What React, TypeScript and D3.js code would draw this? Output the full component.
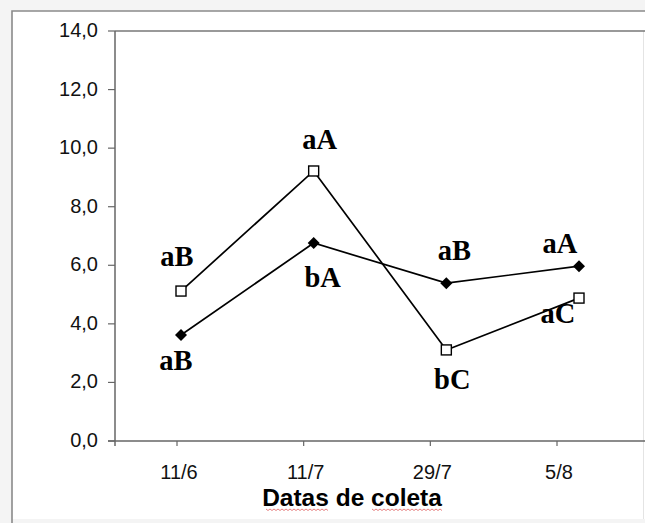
import React, {useEffect, useRef} from 'react';
import * as d3 from 'd3';

const dates = ['11/6', '11/7', '29/7', '5/8'];
const yTicks = [0, 2, 4, 6, 8, 10, 12, 14];
// open squares
const squareValues = [5.12, 9.22, 3.11, 4.88];
// filled diamonds
const diamondValues = [3.62, 6.76, 5.39, 5.97];
const squareLetters = ['aB', 'aA', 'bC', 'aC'];
const diamondLetters = ['aB', 'bA', 'aB', 'aA'];

const W = 645;
const H = 523;

const App = () => {
    const svgRef = useRef(null);

    useEffect(() => {
        const svg = d3.select(svgRef.current);
        svg.selectAll('*').remove();

        const left = 115, top = 31, bottom = 441;
        const y = d3.scaleLinear().domain([0, 14]).range([bottom, top]);
        // axis labels and the plotted points don't line up exactly in the original
        const xAxis = d3.scalePoint().domain(dates).range([177, 557]);
        const xData = d3.scalePoint().domain(dates).range([181, 579]);

        // page background + frame
        svg.append('rect').attr('width', W).attr('height', H).attr('fill', '#f4f4f4');
        svg.append('rect').attr('x', 12).attr('y', 11).attr('width', W - 12).attr('height', 508)
            .attr('fill', '#fff');
        svg.append('path').attr('d', `M12,${H}V11H${W}`)
            .attr('fill', 'none').attr('stroke', '#8a8a8a').attr('stroke-width', 1.6);
        svg.append('line').attr('x1', 643.5).attr('x2', 643.5).attr('y1', 31).attr('y2', 519)
            .attr('stroke', '#e4e4e4').attr('stroke-width', 1);

        const axisColor = '#666';

        // plot frame: top, left, bottom
        svg.append('line').attr('x1', left).attr('x2', W).attr('y1', top).attr('y2', top)
            .attr('stroke', '#777').attr('stroke-width', 1.6);
        svg.append('line').attr('x1', left).attr('x2', left).attr('y1', top).attr('y2', bottom + 5)
            .attr('stroke', axisColor).attr('stroke-width', 1.5);
        svg.append('line').attr('x1', left - 7).attr('x2', W).attr('y1', bottom).attr('y2', bottom)
            .attr('stroke', axisColor).attr('stroke-width', 1.5);

        // y ticks
        const yg = svg.append('g');
        yg.selectAll('line').data(yTicks).join('line')
            .attr('x1', left - 7).attr('x2', left)
            .attr('y1', d => y(d)).attr('y2', d => y(d))
            .attr('stroke', axisColor).attr('stroke-width', 1.2);
        yg.selectAll('text').data(yTicks).join('text')
            .attr('x', 98).attr('y', d => y(d) + 6)
            .attr('text-anchor', 'end')
            .attr('font-family', 'Liberation Sans, Arial, sans-serif')
            .attr('font-size', 20)
            .attr('fill', '#111')
            .text(d => d3.format('.1f')(d).replace('.', ','));

        // x ticks
        const xg = svg.append('g');
        xg.selectAll('line').data(dates).join('line')
            .attr('x1', d => xAxis(d)).attr('x2', d => xAxis(d))
            .attr('y1', bottom).attr('y2', bottom + 5)
            .attr('stroke', axisColor).attr('stroke-width', 1.2);
        xg.selectAll('text').data(dates).join('text')
            .attr('x', d => xAxis(d) + 2).attr('y', 479)
            .attr('text-anchor', 'middle')
            .attr('font-family', 'Liberation Sans, Arial, sans-serif')
            .attr('font-size', 20)
            .attr('fill', '#111')
            .text(d => d);

        // axis title
        svg.append('text')
            .attr('x', 352).attr('y', 506)
            .attr('text-anchor', 'middle')
            .attr('font-family', 'Liberation Sans, Arial, sans-serif')
            .attr('font-size', 24.5).attr('font-weight', 'bold')
            .attr('fill', '#000')
            .text('Datas de coleta');

        // spell-check squiggles under "Datas" and "coleta"
        const squiggle = (x0, x1, yy) => {
            let p = `M${x0},${yy}`;
            for (let x = x0 + 2, i = 0; x <= x1; x += 2, i++) p += `L${x},${yy + (i % 2 ? 0 : 1.5)}`;
            return p;
        };
        [[266, 328], [372, 443]].forEach(([a, b]) => {
            svg.append('path').attr('d', squiggle(a, b, 509))
                .attr('fill', 'none').attr('stroke', '#e06060').attr('stroke-width', 0.8);
        });

        const line = d3.line()
            .x((d, i) => xData(dates[i]))
            .y(d => y(d));

        svg.append('path').datum(squareValues).attr('d', line)
            .attr('fill', 'none').attr('stroke', '#000').attr('stroke-width', 1.7);
        svg.append('path').datum(diamondValues).attr('d', line)
            .attr('fill', 'none').attr('stroke', '#000').attr('stroke-width', 1.7);

        const diamond = d3.symbol().type(d3.symbolSquare).size(72);
        svg.append('g').selectAll('path').data(diamondValues).join('path')
            .attr('d', diamond)
            .attr('transform', (d, i) => `translate(${xData(dates[i])},${y(d)}) rotate(45)`)
            .attr('fill', '#000');

        svg.append('g').selectAll('rect').data(squareValues).join('rect')
            .attr('x', (d, i) => xData(dates[i]) - 5)
            .attr('y', d => y(d) - 5)
            .attr('width', 10).attr('height', 10)
            .attr('fill', '#fff').attr('stroke', '#000').attr('stroke-width', 1.4);

        // significance letters
        const sqOff = [[-4, -25], [6, -22], [6, 39], [-21, 25]];
        const diOff = [[-5, 35], [9, 44], [8, -23], [-19, -13]];
        const letters = [
            ...squareValues.map((v, i) => ({v, i, t: squareLetters[i], o: sqOff[i]})),
            ...diamondValues.map((v, i) => ({v, i, t: diamondLetters[i], o: diOff[i]})),
        ];
        svg.append('g').selectAll('text').data(letters).join('text')
            .attr('x', d => xData(dates[d.i]) + d.o[0])
            .attr('y', d => y(d.v) + d.o[1])
            .attr('text-anchor', 'middle')
            .attr('font-family', 'Liberation Serif, Times New Roman, serif')
            .attr('font-size', 28.5).attr('font-weight', 'bold')
            .attr('fill', '#000')
            .text(d => d.t);
    }, []);

    return (
        <svg ref={svgRef} width={W} height={H}
             style={{position: 'absolute', left: 0, top: 0, display: 'block'}}/>
    );
};

export default App;
